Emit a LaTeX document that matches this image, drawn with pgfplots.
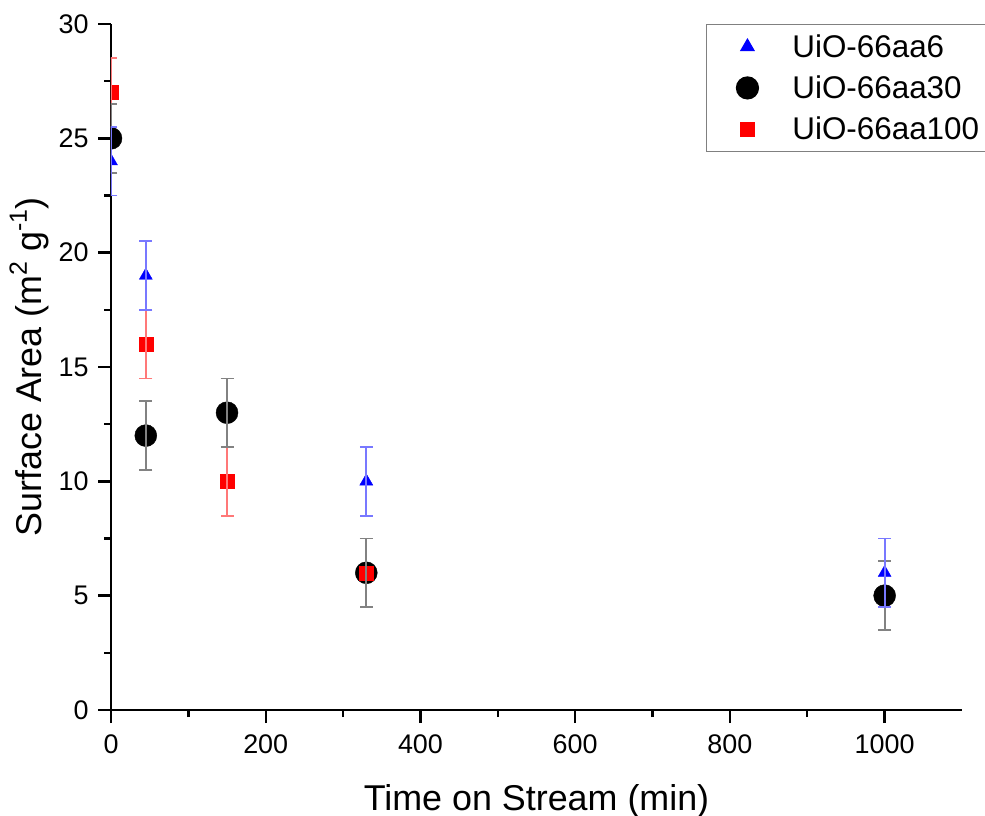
\documentclass[border=0pt]{standalone}
\usepackage{pgfplots}
\pgfplotsset{compat=1.18}
\usepackage{fontspec}
\setmainfont{Liberation Sans}
\definecolor{ebblue}{RGB}{120,120,255}
\definecolor{ebgray}{RGB}{130,130,130}
\definecolor{ebred}{RGB}{255,120,120}
\newcommand{\sups}[1]{\raisebox{0.42em}{\fontsize{25}{25}\selectfont #1}}
\begin{document}
\begin{tikzpicture}
\begin{axis}[
  name=ax,
  scale only axis,
  width=851bp, height=686bp,
  xmin=0, xmax=1100, ymin=0, ymax=30,
  axis x line*=bottom, axis y line*=left,
  axis line style={line width=2.8bp},
  tick style={line width=2.4bp, black},
  tick align=outside,
  major tick length=13bp, minor tick length=7bp,
  xtick={0,200,400,600,800,1000},
  ytick={0,5,10,15,20,25,30},
  minor x tick num=1, minor y tick num=1,
  tick label style={font=\fontsize{27}{30}\selectfont},
  yticklabel style={xshift=-6bp},
  xticklabel style={yshift=-8bp},
  /pgf/number format/assume math mode=true,
  /pgf/number format/set thousands separator={},
  xlabel={Time on Stream (min)},
  ylabel={Surface Area (m\sups{2} g\sups{-1})},
  every axis x label/.style={at={(rel axis cs:0.5,-0.1458)}, anchor=base, font=\fontsize{36}{40}\selectfont},
  every axis y label/.style={at={(rel axis cs:-0.096,0.5)}, rotate=90, anchor=center, font=\fontsize{36}{40}\selectfont},
  clip marker paths=true,
  legend cell align=left,
  legend image code/.code={\draw[mark repeat=2,mark phase=2,#1] plot coordinates {(0bp,0bp) (24bp,0bp) (48bp,0bp)};},
  legend style={at={(rel axis cs:0.699,1.0)}, anchor=north west, draw=gray, line width=1.2bp,
    font=\fontsize{31.5}{35}\selectfont, inner xsep=30bp, inner ysep=8bp,
    row sep=13bp, column sep=32bp},
]
% markers
\addplot[only marks, mark=triangle*, mark size=7.5bp, blue, mark options={draw=blue, fill=blue}]
  coordinates {(0,24) (45,19) (330,10) (1000,6)};
\addlegendentry{UiO-66aa6}
\addplot[only marks, mark=*, mark size=11bp, black]
  coordinates {(0,25) (45,12) (150,13) (330,6) (1000,5)};
\addlegendentry{UiO-66aa30}
\addplot[only marks, mark=square*, mark size=7bp, red, mark options={draw=red, fill=red}]
  coordinates {(0,27) (45,16) (150,10) (330,6)};
\addlegendentry{UiO-66aa100}
% error bars
\addplot[forget plot, draw=none, mark=none,
  error bars/.cd, y dir=both, y explicit, error mark=|,
  error bar style={draw=ebred, line width=1.8bp},
  error mark options={draw=ebred, line width=1.8bp, mark size=6.5bp}]
  coordinates {(0,27) +- (0,1.5) (45,16) +- (0,1.5) (150,10) +- (0,1.5) (330,6) +- (0,1.5)};
\addplot[forget plot, draw=none, mark=none,
  error bars/.cd, y dir=both, y explicit, error mark=|,
  error bar style={draw=ebgray, line width=1.8bp},
  error mark options={draw=ebgray, line width=1.8bp, mark size=6.5bp}]
  coordinates {(0,25) +- (0,1.5) (45,12) +- (0,1.5) (150,13) +- (0,1.5) (330,6) +- (0,1.5) (1000,5) +- (0,1.5)};
\addplot[forget plot, draw=none, mark=none,
  error bars/.cd, y dir=both, y explicit, error mark=|,
  error bar style={draw=ebblue, line width=1.8bp},
  error mark options={draw=ebblue, line width=1.8bp, mark size=6.5bp}]
  coordinates {(0,24) +- (0,1.5) (45,19) +- (0,1.5) (330,10) +- (0,1.5) (1000,6) +- (0,1.5)};
\end{axis}
\pgfresetboundingbox
\path[use as bounding box] ([xshift=-111bp,yshift=-106bp]ax.south west) rectangle ([xshift=23bp,yshift=24bp]ax.north east);
\end{tikzpicture}
\end{document}
